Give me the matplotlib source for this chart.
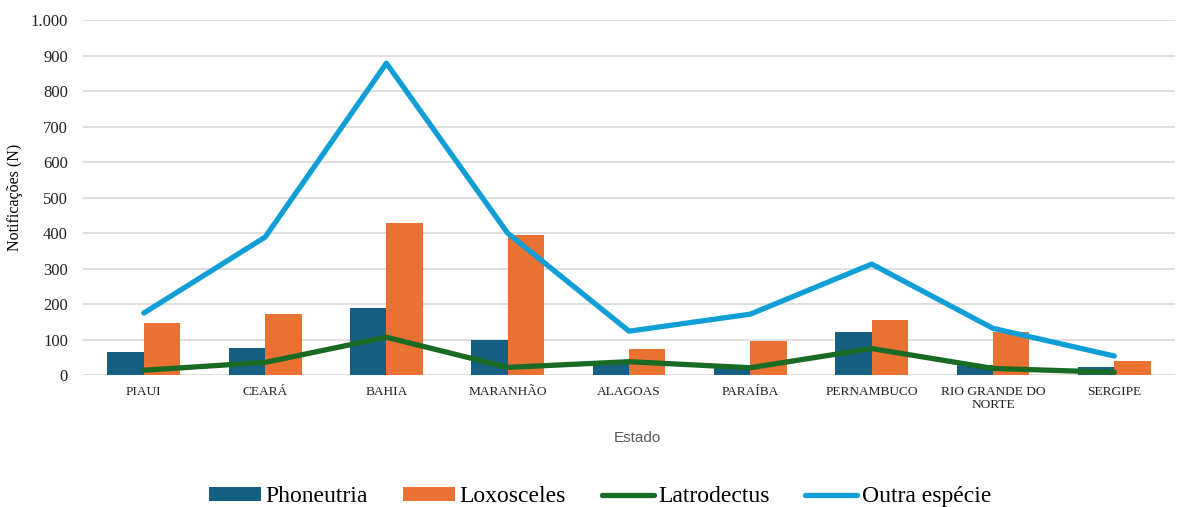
import numpy as np
import matplotlib

matplotlib.use("Agg")
import matplotlib.pyplot as plt
from matplotlib.ticker import FuncFormatter, MultipleLocator

estados = ["PIAUI", "CEARÁ", "BAHIA", "MARANHÃO", "ALAGOAS", "PARAÍBA",
           "PERNAMBUCO", "RIO GRANDE DO\nNORTE", "SERGIPE"]
phoneutria = [66, 76, 189, 100, 32, 20, 121, 28, 22]
loxosceles = [146, 171, 430, 394, 73, 96, 156, 122, 39]
latrodectus = [14, 36, 107, 22, 38, 21, 75, 19, 8]
outra_especie = [175, 389, 879, 400, 124, 172, 313, 132, 54]

serif = "Liberation Serif"

fig = plt.figure(figsize=(11.88, 5.07), dpi=100)
ax = fig.add_axes([0.07, 0.26, 0.919, 0.70])

x = np.arange(len(estados))
w = 0.3
b1 = ax.bar(x - w / 2, phoneutria, width=w, color="#156082", label="Phoneutria", zorder=2)
b2 = ax.bar(x + w / 2, loxosceles, width=w, color="#E97132", label="Loxosceles", zorder=2)
l1, = ax.plot(x, latrodectus, color="#196B24", lw=3.8, label="Latrodectus", zorder=3,
              solid_capstyle="round")
l2, = ax.plot(x, outra_especie, color="#0F9ED5", lw=3.8, label="Outra espécie", zorder=3,
              solid_capstyle="round")

ax.set_xlim(-0.5, len(estados) - 0.5)
ax.set_ylim(0, 1000)
ax.yaxis.set_major_locator(MultipleLocator(100))
ax.yaxis.set_major_formatter(FuncFormatter(lambda v, p: f"{int(v):,}".replace(",", ".")))
ax.grid(axis="y", color="#d9d9d9", lw=1.2, zorder=0)
ax.set_axisbelow(True)
for s in ax.spines.values():
    s.set_visible(False)
ax.tick_params(length=0)
ax.tick_params(axis="y", pad=11)
ax.tick_params(axis="x", pad=8)

ax.set_xticks(x)
ax.set_xticklabels(estados, fontfamily=serif, fontsize=9.6, color="#222222",
                   linespacing=1.1)
for t in ax.get_yticklabels():
    t.set_fontfamily(serif)
    t.set_fontsize(12)
    t.set_color("#222222")

ax.set_ylabel("Notificações (N)", fontfamily=serif, fontsize=11.5)
ax.yaxis.set_label_coords(-0.055, 0.5)
ax.set_xlabel("Estado", fontfamily="Liberation Sans", fontsize=11, color="#595959")
ax.xaxis.set_label_coords(0.508, -0.158)

fig.legend([b1, b2, l1, l2], ["Phoneutria", "Loxosceles", "Latrodectus", "Outra espécie"],
           loc="center", bbox_to_anchor=(0.505, 0.02), ncol=4, frameon=False,
           prop={"family": serif, "size": 17}, handlelength=2.2, handleheight=0.55,
           handletextpad=0.2, columnspacing=1.5)

fig.savefig("out.png", dpi=100)
